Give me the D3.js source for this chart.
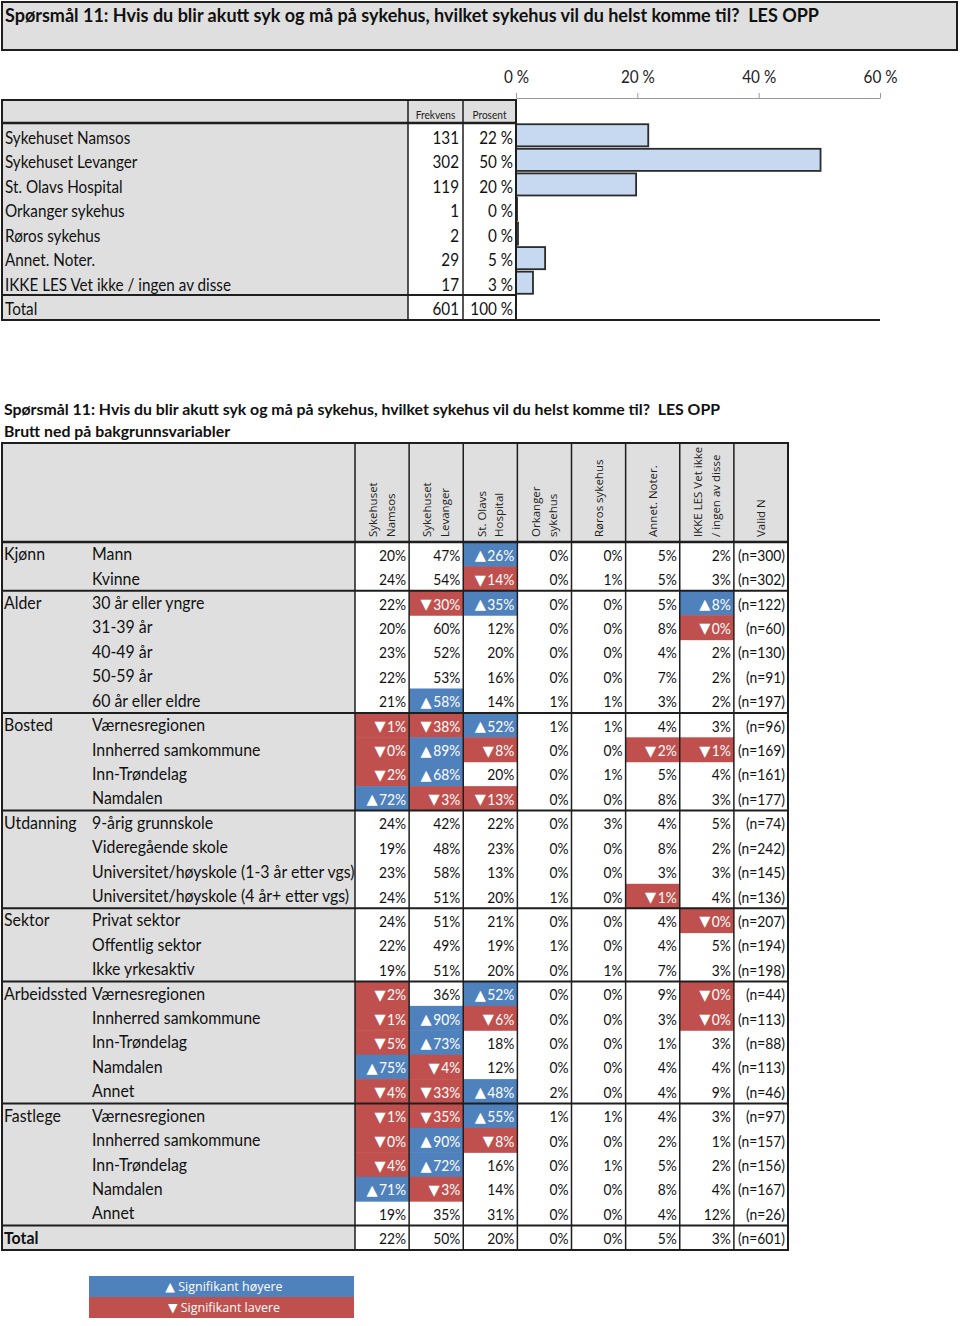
<!DOCTYPE html>
<html><head><meta charset="utf-8">
<script src="https://cdn.jsdelivr.net/npm/d3@7"></script>
<style>body{margin:0;background:#fff} text{white-space:pre}</style>
</head><body><svg id="c" width="960" height="1326"></svg>
<script>
const titleText = "Spørsmål 11: Hvis du blir akutt syk og må på sykehus, hvilket sykehus vil du helst komme til?  LES OPP";
const subTitleText = "Brutt ned på bakgrunnsvariabler";

// Top frequency table
const topCategories = ["Sykehuset Namsos","Sykehuset Levanger","St. Olavs Hospital","Orkanger sykehus","Røros sykehus","Annet. Noter.","IKKE LES Vet ikke / ingen av disse"];
const topFreq = [131,302,119,1,2,29,17];
const topPctLabels = ["22 %","50 %","20 %","0 %","0 %","5 %","3 %"];
const topPct = [21.8,50.2,19.8,0.17,0.33,4.8,2.8];
const topTotal = ["Total","601","100 %"];
const axisTicks = [0,20,40,60];

// Breakdown table
const columnHeaders = [["Sykehuset","Namsos"],["Sykehuset","Levanger"],["St. Olavs","Hospital"],["Orkanger","sykehus"],["Røros sykehus"],["Annet. Noter."],["IKKE LES Vet ikke","/ ingen av disse"],["Valid N"]];
const groupNames = ["Kjønn","Alder","Bosted","Utdanning","Sektor","Arbeidssted","Fastlege","Total"];
const groupSizes = [2,5,4,4,3,5,5,1];
const rowLabels = ["Mann","Kvinne","30 år eller yngre","31-39 år","40-49 år","50-59 år","60 år eller eldre","Værnesregionen","Innherred samkommune","Inn-Trøndelag","Namdalen","9-årig grunnskole","Videregående skole","Universitet/høyskole (1-3 år etter vgs)","Universitet/høyskole (4 år+ etter vgs)","Privat sektor","Offentlig sektor","Ikke yrkesaktiv","Værnesregionen","Innherred samkommune","Inn-Trøndelag","Namdalen","Annet","Værnesregionen","Innherred samkommune","Inn-Trøndelag","Namdalen","Annet",""];
const namsos   = [20,24,22,20,23,22,21,1,0,2,72,24,19,23,24,24,22,19,2,1,5,75,4,1,0,4,71,19,22];
const levanger = [47,54,30,60,52,53,58,38,89,68,3,42,48,58,51,51,49,51,36,90,73,4,33,35,90,72,3,35,50];
const stOlavs  = [26,14,35,12,20,16,14,52,8,20,13,22,23,13,20,21,19,20,52,6,18,12,48,55,8,16,14,31,20];
const orkanger = [0,0,0,0,0,0,1,1,0,0,0,0,0,0,1,0,1,0,0,0,0,0,2,1,0,0,0,0,0];
const roros    = [0,1,0,0,0,0,1,1,0,1,0,3,0,0,0,0,0,1,0,0,0,0,0,1,0,1,0,0,0];
const annet    = [5,5,5,8,4,7,3,4,2,5,8,4,8,3,1,4,4,7,9,3,1,4,4,4,2,5,8,4,5];
const ikkeLes  = [2,3,8,0,2,2,2,3,1,4,3,5,2,3,4,0,5,3,0,0,3,4,9,3,1,2,4,12,3];
const validN   = [300,302,122,60,130,91,197,96,169,161,177,74,242,145,136,207,194,198,44,113,88,113,46,97,157,156,167,26,601];
// significance: + higher, - lower, . none
const sigNamsos   = ".......---+.......---+----+..";
const sigLevanger = "..-...+-++-........++---++-..";
const sigStOlavs  = "+-+....+-.-.......+-..++-....";
const sigOrkanger = ".............................";
const sigRoros    = ".............................";
const sigAnnet    = "........-.....-..............";
const sigIkkeLes  = "..+-....-......-..--.........";
const legendLabels = ["▲ Signifikant høyere","▼ Signifikant lavere"];

const GRAY = "#dfdfdf", LINE = "#1e1e1e", BLUE = "#4f81bd", RED = "#c0504d";
const FONT = "Lato, 'Liberation Sans', sans-serif";
const HFONT = "'Open Sans','DejaVu Sans',sans-serif";
const TRI = "'DejaVu Sans', sans-serif";

const svg = d3.select("#c");

function factorFor(str, size, weight, target){
  const t = svg.append("text").attr("font-family",FONT).attr("font-size",size).attr("font-weight",weight).text(str);
  const w = t.node().getComputedTextLength(); t.remove(); return target / w;
}
function squeeze(sel, k){
  sel.each(function(){
    const w = this.getComputedTextLength();
    if (w > 0) d3.select(this).attr("textLength", w*k).attr("lengthAdjust","spacingAndGlyphs");
  });
}

// Title box
svg.append("rect").attr("x",2).attr("y",2).attr("width",955).attr("height",48)
  .attr("fill",GRAY).attr("stroke",LINE).attr("stroke-width",2);
const t1 = svg.append("text").attr("x",5).attr("y",21.5).attr("font-family",FONT).attr("font-weight","bold")
  .attr("font-size",18.5).attr("fill","#111").text(titleText);
squeeze(t1, factorFor(titleText,18.5,"bold",814));

// ---------- Top table ----------
const yTop = d3.scaleBand().domain(topCategories).range([123,295]).paddingInner(0.1).paddingOuter(0.05);
const yRow = d3.scaleBand().domain(topCategories).range([123,295]);
const xBar = d3.scaleLinear().domain([0,60]).range([516,880]);

svg.append("rect").attr("x",2).attr("y",100).attr("width",514).attr("height",23).attr("fill",GRAY);
svg.append("rect").attr("x",2).attr("y",123).attr("width",406).attr("height",172).attr("fill",GRAY);
svg.append("rect").attr("x",2).attr("y",295).attr("width",406).attr("height",25).attr("fill",GRAY);
const hdr = svg.append("g").attr("font-family",FONT).attr("font-size",11).attr("fill","#222").attr("text-anchor","middle");
hdr.append("text").attr("x",435.5).attr("y",119).text("Frekvens");
hdr.append("text").attr("x",489.5).attr("y",119).text("Prosent");
squeeze(hdr.selectAll("text"), 0.92);

const tg = svg.append("g").attr("font-family",FONT).attr("font-size",17).attr("fill","#111");
topCategories.forEach((c,i)=>{
  const cy = yRow(c) + yRow.bandwidth() - 4;
  tg.append("text").attr("x",5).attr("y",cy).text(c);
  tg.append("text").attr("x",459).attr("y",cy).attr("text-anchor","end").text(topFreq[i]);
  tg.append("text").attr("x",513).attr("y",cy).attr("text-anchor","end").text(topPctLabels[i]);
});
const tcy = 320 - 5;
tg.append("text").attr("x",5).attr("y",tcy).text(topTotal[0]);
tg.append("text").attr("x",459).attr("y",tcy).attr("text-anchor","end").text(topTotal[1]);
tg.append("text").attr("x",513).attr("y",tcy).attr("text-anchor","end").text(topTotal[2]);
squeeze(tg.selectAll("text"), factorFor(topCategories[6],17,"normal",226));

// bars
svg.append("g").selectAll("rect").data(topCategories).join("rect")
  .attr("x",xBar(0)).attr("y",d=>yTop(d))
  .attr("width",(d,i)=>xBar(topPct[i])-xBar(0)).attr("height",yTop.bandwidth())
  .attr("fill","#c6d9f1").attr("stroke","#2b2b2b").attr("stroke-width",1.8);

// axis
const ax = svg.append("g").attr("transform","translate(0,98)")
  .call(d3.axisTop(xBar).tickValues(axisTicks).tickSize(5).tickSizeOuter(0).tickPadding(10).tickFormat(d=>d+" %"));
ax.select(".domain").attr("stroke","#9a9a9a");
ax.selectAll(".tick line").attr("stroke","#9a9a9a");
ax.selectAll(".tick text").attr("font-family",FONT).attr("font-size",17).attr("fill","#222");
squeeze(ax.selectAll(".tick text"), 0.9);

// top table lines
const tl = svg.append("g").attr("stroke",LINE).attr("fill","none");
tl.append("rect").attr("x",2).attr("y",100).attr("width",514).attr("height",220).attr("stroke-width",2);
tl.append("line").attr("x1",2).attr("x2",516).attr("y1",123).attr("y2",123).attr("stroke-width",2.5);
tl.append("line").attr("x1",2).attr("x2",516).attr("y1",295).attr("y2",295).attr("stroke-width",2);
tl.append("line").attr("x1",516).attr("x2",880).attr("y1",320).attr("y2",320).attr("stroke-width",2);
[408,463].forEach(x=>tl.append("line").attr("x1",x).attr("x2",x).attr("y1",100).attr("y2",320).attr("stroke-width",1.5));

// ---------- Breakdown table ----------
const st = svg.append("g").attr("font-family",FONT).attr("font-weight","bold").attr("font-size",16).attr("fill","#111");
const st1 = st.append("text").attr("x",4).attr("y",415).text(titleText);
const st2 = st.append("text").attr("x",4).attr("y",437).text(subTitleText);
const kt = factorFor(titleText,16,"bold",716);
squeeze(st1, kt); squeeze(st2, kt);

const nRows = rowLabels.length;
const y = d3.scaleBand().domain(d3.range(nRows)).range([542,1250]);
const colKeys = d3.range(columnHeaders.length);
const x = d3.scaleBand().domain(colKeys).range([355,788]);
const series = [namsos,levanger,stOlavs,orkanger,roros,annet,ikkeLes];
const sigs = [sigNamsos,sigLevanger,sigStOlavs,sigOrkanger,sigRoros,sigAnnet,sigIkkeLes];

svg.append("rect").attr("x",2).attr("y",443).attr("width",786).attr("height",99).attr("fill",GRAY);
svg.append("rect").attr("x",2).attr("y",542).attr("width",353).attr("height",708).attr("fill",GRAY);

const cells = [];
series.forEach((s,ci)=>s.forEach((v,ri)=>cells.push({ci,ri,v,sig:sigs[ci][ri]})));
svg.append("g").selectAll("rect").data(cells.filter(d=>d.sig!==".")).join("rect")
  .attr("x",d=>x(d.ci)).attr("y",d=>y(d.ri)).attr("width",x.bandwidth()).attr("height",y.bandwidth()+0.5)
  .attr("fill",d=>d.sig==="+"?BLUE:RED);

const kCell = factorFor("(n=300)",15.5,"normal",47);
const cellText = svg.append("g").attr("font-family",FONT).attr("font-size",15.5);
const plain = cellText.selectAll("text.v").data(cells).join("text").attr("class","v")
  .attr("x",d=>x(d.ci)+x.bandwidth()-3).attr("y",d=>y(d.ri)+y.bandwidth()/2+6.5)
  .attr("text-anchor","end").attr("fill",d=>d.sig==="."?"#111":"#fff")
  .text(d=>d.v+"%");
cellText.selectAll("text.n").data(validN).join("text").attr("class","n")
  .attr("x",x(7)+x.bandwidth()-3).attr("y",(d,i)=>y(i)+y.bandwidth()/2+6.5)
  .attr("text-anchor","end").attr("fill","#111").text(d=>"(n="+d+")");
squeeze(cellText.selectAll("text"), kCell);
// significance triangles placed just left of the value
plain.filter(d=>d.sig!==".").each(function(d){
  const w = +d3.select(this).attr("textLength");
  cellText.append("text").attr("class","tri")
    .attr("x",x(d.ci)+x.bandwidth()-3-w-1.5).attr("y",y(d.ri)+y.bandwidth()/2+6)
    .attr("text-anchor","end").attr("font-family",TRI).attr("font-size",14.5).attr("fill","#fff")
    .text(d.sig==="+"?"▲":"▼");
});

const lab = svg.append("g").attr("font-family",FONT).attr("font-size",17).attr("fill","#111");
lab.selectAll("text.sub").data(rowLabels).join("text").attr("class","sub")
  .attr("x",92).attr("y",(d,i)=>y(i)+y.bandwidth()/2+6).text(d=>d);
const groupStarts = groupSizes.map((s,i)=>d3.sum(groupSizes.slice(0,i)));
lab.selectAll("text.grp").data(groupNames).join("text").attr("class","grp")
  .attr("x",4).attr("y",(d,i)=>y(groupStarts[i])+y.bandwidth()/2+6)
  .attr("font-weight",d=>d==="Total"?"bold":"normal").text(d=>d);
squeeze(lab.selectAll("text"), factorFor(rowLabels[14],17,"normal",257));

// rotated headers
const hg = svg.append("g").attr("font-family",HFONT).attr("font-size",11.5).attr("fill","#222");
columnHeaders.forEach((lines,ci)=>{
  const cx = x(ci)+x.bandwidth()/2;
  const n = lines.length;
  lines.forEach((t,li)=>{
    const lx = cx + (li-(n-1)/2)*17.5 + 4;
    hg.append("text").attr("transform",`translate(${lx},537) rotate(-90)`).text(t);
  });
});

const bl = svg.append("g").attr("stroke",LINE).attr("fill","none");
bl.append("rect").attr("x",2).attr("y",443).attr("width",786).attr("height",807).attr("stroke-width",2);
bl.append("line").attr("x1",2).attr("x2",788).attr("y1",542).attr("y2",542).attr("stroke-width",2.5);
groupStarts.slice(1).forEach(r=>bl.append("line").attr("x1",2).attr("x2",788).attr("y1",y(r)).attr("y2",y(r)).attr("stroke-width",2));
colKeys.forEach(ci=>bl.append("line").attr("x1",x(ci)).attr("x2",x(ci)).attr("y1",443).attr("y2",1250).attr("stroke-width",1.5));

// legend
const lg = svg.append("g");
const legendColors = [BLUE,RED];
legendLabels.forEach((t,i)=>{
  lg.append("rect").attr("x",89).attr("y",1276+i*21).attr("width",265).attr("height",21).attr("fill",legendColors[i]);
  lg.append("text").attr("x",224).attr("y",1276+i*21+15).attr("text-anchor","middle").attr("font-family",HFONT)
    .attr("font-size",12.5).attr("fill","#fff").text(t);
});
</script></body></html>
